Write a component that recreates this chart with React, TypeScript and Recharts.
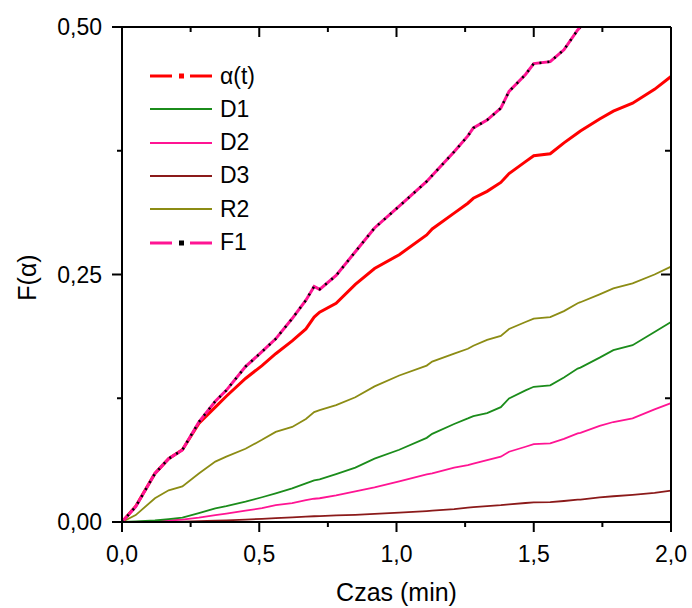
import React from "react"
import { LineChart, Line, XAxis, YAxis, Legend } from "recharts"

const T = [0, 0.05, 0.12, 0.17, 0.22, 0.28, 0.34, 0.38, 0.45, 0.51, 0.56, 0.62, 0.67, 0.7, 0.72, 0.78, 0.85, 0.92, 1.01, 1.11, 1.13, 1.21, 1.26, 1.28, 1.33, 1.38, 1.41, 1.47, 1.5, 1.56, 1.61, 1.66, 1.67, 1.74, 1.79, 1.86, 1.94, 2.0]

const ALPHA = [0, 0.016, 0.049, 0.064, 0.073, 0.0996, 0.116, 0.127, 0.145, 0.158, 0.17, 0.183, 0.195, 0.207, 0.212, 0.221, 0.24, 0.256, 0.27, 0.29, 0.296, 0.312, 0.322, 0.327, 0.334, 0.343, 0.352, 0.364, 0.37, 0.372, 0.383, 0.393, 0.395, 0.407, 0.415, 0.423, 0.437, 0.45]
const D1 = [0, 0.0005, 0.0015, 0.003, 0.0044, 0.009, 0.0138, 0.016, 0.0205, 0.025, 0.029, 0.034, 0.039, 0.042, 0.043, 0.0484, 0.055, 0.064, 0.073, 0.085, 0.089, 0.099, 0.1046, 0.107, 0.11, 0.116, 0.1248, 0.133, 0.1366, 0.138, 0.146, 0.155, 0.156, 0.166, 0.1736, 0.1786, 0.192, 0.202]
const D2 = [0, 0.0002, 0.0007, 0.0015, 0.0025, 0.0045, 0.007, 0.0085, 0.0114, 0.014, 0.0171, 0.019, 0.022, 0.0235, 0.024, 0.027, 0.031, 0.035, 0.041, 0.048, 0.049, 0.055, 0.0575, 0.059, 0.0626, 0.066, 0.071, 0.076, 0.0787, 0.0794, 0.084, 0.0895, 0.09, 0.097, 0.101, 0.1046, 0.1137, 0.12]
const D3 = [0, 0, 0.0001, 0.0002, 0.0004, 0.0008, 0.0013, 0.0017, 0.0025, 0.0032, 0.004, 0.0047, 0.0054, 0.0058, 0.006, 0.0066, 0.0072, 0.0082, 0.0094, 0.011, 0.0114, 0.013, 0.0145, 0.015, 0.016, 0.017, 0.0178, 0.0192, 0.0198, 0.02, 0.0212, 0.0225, 0.0227, 0.0249, 0.026, 0.0275, 0.0295, 0.0316]
const R2 = [0, 0.007, 0.024, 0.032, 0.036, 0.049, 0.061, 0.066, 0.074, 0.083, 0.091, 0.096, 0.104, 0.111, 0.113, 0.118, 0.126, 0.137, 0.148, 0.158, 0.162, 0.17, 0.175, 0.178, 0.184, 0.188, 0.195, 0.202, 0.2055, 0.207, 0.213, 0.221, 0.222, 0.23, 0.236, 0.241, 0.25, 0.258]
// F1 leaves the plot at the top edge
const F1 = [0, 0.0155, 0.049, 0.064, 0.0727, 0.101, 0.122, 0.133, 0.157, 0.172, 0.185, 0.2055, 0.224, 0.238, 0.235, 0.249, 0.273, 0.297, 0.319, 0.344, 0.35, 0.374, 0.39, 0.398, 0.406, 0.418, 0.435, 0.452, 0.463, 0.465, 0.477, 0.497, 0.5]

const X_TICKS = [0, 0.25, 0.5, 0.75, 1, 1.25, 1.5, 1.75, 2]
const Y_TICKS = [0, 0.125, 0.25, 0.375, 0.5]

const LEGEND = [
  { name: "α(t)", color: "#ff0000", kind: "dashdot", dot: "#ff0000" },
  { name: "D1", color: "#1b8c1b", kind: "solid" },
  { name: "D2", color: "#ff1493", kind: "solid" },
  { name: "D3", color: "#8b1a1a", kind: "solid" },
  { name: "R2", color: "#8c8c14", kind: "solid" },
  { name: "F1", color: "#ff1493", kind: "dashdot", dot: "#000" },
]

const data = T.map((t, i) => ({
  t,
  alpha: ALPHA[i],
  d1: D1[i],
  d2: D2[i],
  d3: D3[i],
  r2: R2[i],
  f1: i < F1.length ? F1[i] : null,
}))

const FONT = "Arial, 'Liberation Sans', sans-serif"

const isMajor = (v: number, step: number) => Math.abs(v / step - Math.round(v / step)) < 1e-6

const BottomTick = (props: any) => {
  const { x, y, payload } = props
  const major = isMajor(payload.value, 0.5)
  return (
    <g>
      <line x1={x} x2={x} y1={y} y2={y + (major ? 10 : 5)} stroke="#000" strokeWidth={2} />
      {major && (
        <text x={x} y={y + 40} textAnchor="middle" fontSize={23} fontFamily={FONT} fill="#000">
          {payload.value.toFixed(1).replace(".", ",")}
        </text>
      )}
    </g>
  )
}

// mirrored frame: ticks point into the plot
const TopTick = (props: any) => {
  const { x, y, payload } = props
  const major = isMajor(payload.value, 0.5)
  return <line x1={x} x2={x} y1={y} y2={y + (major ? 10 : 5)} stroke="#000" strokeWidth={2} />
}

const LeftTick = (props: any) => {
  const { x, y, payload } = props
  const major = isMajor(payload.value, 0.25)
  return (
    <g>
      <line x1={x - (major ? 10 : 5)} x2={x} y1={y} y2={y} stroke="#000" strokeWidth={2} />
      {major && (
        <text x={x - 20} y={y + 8} textAnchor="end" fontSize={23} fontFamily={FONT} fill="#000">
          {payload.value.toFixed(2).replace(".", ",")}
        </text>
      )}
    </g>
  )
}

const RightTick = (props: any) => {
  const { x, y, payload } = props
  const major = isMajor(payload.value, 0.25)
  return <line x1={x - (major ? 10 : 6)} x2={x} y1={y} y2={y} stroke="#000" strokeWidth={2} />
}

const XTitle = (props: any) => {
  const { x, y, width } = props.viewBox
  return (
    <text x={x + width / 2} y={y + 79} textAnchor="middle" fontSize={25} fontFamily={FONT} fill="#000">
      Czas (min)
    </text>
  )
}

const YTitle = (props: any) => {
  const { x, y, height } = props.viewBox
  const cx = x + 27
  const cy = y + height / 2 + 3
  return (
    <text
      x={cx}
      y={cy}
      transform={`rotate(-90, ${cx}, ${cy})`}
      textAnchor="middle"
      dominantBaseline="central"
      fontSize={25}
      fontFamily={FONT}
      fill="#000"
    >
      F(α)
    </text>
  )
}

const renderLegend = () => (
  <div style={{ fontFamily: FONT, fontSize: 23, color: "#000" }}>
    {LEGEND.map((s) => (
      <div key={s.name} style={{ display: "flex", alignItems: "center", height: 33.3, lineHeight: "33.3px" }}>
        <svg width={62} height={12} style={{ display: "block" }}>
          {s.kind === "solid" ? (
            <line x1={0} x2={62} y1={6} y2={6} stroke={s.color} strokeWidth={2} />
          ) : (
            <g>
              <line x1={0} x2={22} y1={6} y2={6} stroke={s.color} strokeWidth={3} />
              <rect x={29} y={3.5} width={5} height={5} fill={s.dot} />
              <line x1={40} x2={62} y1={6} y2={6} stroke={s.color} strokeWidth={3} />
            </g>
          )}
        </svg>
        <span style={{ marginLeft: 8 }}>{s.name}</span>
      </div>
    ))}
  </div>
)

export default function App() {
  return (
    <div style={{ position: "absolute", left: 0, top: 0, background: "#fff" }}>
      <LineChart width={692} height={608} data={data} margin={{ top: 26, right: 20, bottom: 0, left: 0 }}>
        <XAxis
          dataKey="t"
          type="number"
          domain={[0, 2]}
          ticks={X_TICKS}
          interval={0}
          height={86}
          tickSize={0}
          tickMargin={0}
          tick={<BottomTick />}
          tickLine={false}
          axisLine={{ stroke: "#000", strokeWidth: 2 }}
          label={{ content: XTitle }}
        />
        {/* 1px thick so recharts still draws it */}
        <XAxis
          xAxisId="top"
          orientation="top"
          dataKey="t"
          type="number"
          domain={[0, 2]}
          allowDataOverflow
          ticks={X_TICKS}
          interval={0}
          height={1}
          tickSize={0}
          tickMargin={0}
          tick={<TopTick />}
          tickLine={false}
          axisLine={{ stroke: "#000", strokeWidth: 2 }}
        />
        <YAxis
          type="number"
          domain={[0, 0.5]}
          allowDataOverflow
          ticks={Y_TICKS}
          interval={0}
          width={122}
          tickSize={0}
          tickMargin={0}
          tick={<LeftTick />}
          tickLine={false}
          axisLine={{ stroke: "#000", strokeWidth: 2 }}
          label={{ content: YTitle }}
        />
        <YAxis
          yAxisId="right"
          orientation="right"
          type="number"
          domain={[0, 0.5]}
          allowDataOverflow
          ticks={Y_TICKS}
          interval={0}
          width={1}
          tickSize={0}
          tickMargin={0}
          tick={<RightTick />}
          tickLine={false}
          axisLine={{ stroke: "#000", strokeWidth: 2 }}
        />
        <Legend
          layout="vertical"
          align="center"
          verticalAlign="middle"
          content={renderLegend}
          wrapperStyle={{ left: 150, top: 59.5, width: "auto", height: "auto" }}
        />
        <Line dataKey="d3" stroke="#8b1a1a" strokeWidth={1.8} dot={false} activeDot={false} isAnimationActive={false} />
        <Line dataKey="d2" stroke="#ff1493" strokeWidth={1.8} dot={false} activeDot={false} isAnimationActive={false} />
        <Line dataKey="d1" stroke="#1b8c1b" strokeWidth={1.8} dot={false} activeDot={false} isAnimationActive={false} />
        <Line dataKey="r2" stroke="#8c8c14" strokeWidth={1.8} dot={false} activeDot={false} isAnimationActive={false} />
        <Line dataKey="alpha" stroke="#ff0000" strokeWidth={3} dot={false} activeDot={false} isAnimationActive={false} />
        <Line dataKey="f1" stroke="#ff1493" strokeWidth={3} dot={false} activeDot={false} isAnimationActive={false} />
        {/* black dots of F1, bound to the mirrored axes (same domains) */}
        <Line
          dataKey="f1"
          xAxisId="top"
          yAxisId="right"
          stroke="#000"
          strokeWidth={2.5}
          strokeDasharray="2 6"
          dot={false}
          activeDot={false}
          legendType="none"
          isAnimationActive={false}
        />
      </LineChart>
    </div>
  )
}
